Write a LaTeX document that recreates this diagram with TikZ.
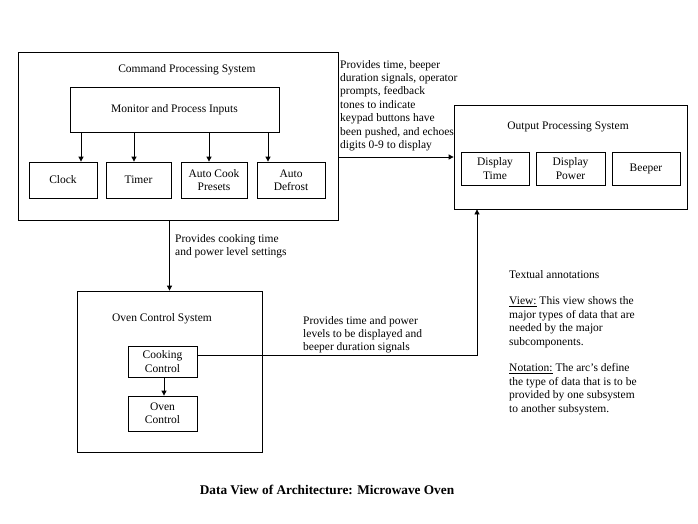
\documentclass[tikz,border=0pt]{standalone}
\usepackage{fontspec}
\setmainfont{Liberation Serif}
\usetikzlibrary{arrows.meta}
\begin{document}
\begin{tikzpicture}[x=1pt,y=-1pt,
  every node/.style={font=\fontsize{11.5}{13.4}\selectfont},
  box/.style={draw,line width=0.8pt,inner sep=0pt,align=center},
  txt/.style={inner sep=0pt,align=left,anchor=north west},
  arr/.style={line width=0.8pt,-{Triangle[length=5pt,width=5pt]}},
  ln/.style={line width=0.8pt}]
\useasboundingbox (0,0) rectangle (698,523);
% Command Processing System
\node[box,minimum width=320pt,minimum height=168pt] (cps) at (178,136) {};
\node (cpst) at (187,70) {Command Processing System};
\node[box,minimum width=209pt,minimum height=45pt] (mpi) at (174.5,109.5) {Monitor and Process Inputs};
\node[box,minimum width=68pt,minimum height=36pt] (clock) at (63,180) {Clock};
\node[box,minimum width=65pt,minimum height=36pt] (timer) at (138.5,180) {Timer};
\node[box,minimum width=66pt,minimum height=36pt] (cook) at (214,180) {Auto Cook\\Presets};
\node[box,minimum width=68pt,minimum height=36pt] (defrost) at (291,180) {Auto\\Defrost};
\draw[arr] (mpi.south -| 81,0) -- (clock.north -| 81,0);
\draw[arr] (mpi.south -| 134,0) -- (timer.north -| 134,0);
\draw[arr] (mpi.south -| 209,0) -- (cook.north -| 209,0);
\draw[arr] (mpi.south -| 268,0) -- (defrost.north -| 268,0);
% Output Processing System
\node[box,minimum width=233pt,minimum height=104pt] (out) at (570.5,157) {};
\node (outt) at (568,127) {Output Processing System};
\node[box,minimum width=68pt,minimum height=33pt] (dtime) at (495,168.5) {Display\\Time};
\node[box,minimum width=69pt,minimum height=33pt] (dpower) at (570.5,168.5) {Display\\Power};
\node[box,minimum width=68pt,minimum height=33pt] (beeper) at (646,168.5) {Beeper};
% connector cps -> out
\draw[arr] (cps.east |- out.west) -- (out.west);
\node[txt] (lbl1) at (340,60) {Provides time, beeper\\duration signals, operator\\prompts, feedback\\tones to indicate\\keypad buttons have\\been pushed, and echoes\\digits 0-9 to display};
% Oven Control System
\node[box,minimum width=185pt,minimum height=161pt] (oven) at (169.5,371.5) {};
\node (ovent) at (162,319) {Oven Control System};
\node[box,minimum width=69pt,minimum height=31pt] (cc) at (162.5,361.5) {Cooking\\Control};
\node[box,minimum width=69pt,minimum height=35pt] (oc) at (162.5,413.5) {Oven\\Control};
\draw[arr] (cc.south -| 164,0) -- (oc.north -| 164,0);
% cps -> oven
\draw[arr] (oven.north |- cps.south) -- (oven.north);
\node[txt] (lbl2) at (175,234) {Provides cooking time\\and power level settings};
% cooking control -> out
\coordinate (bend) at (477,355);
\draw[arr] (cc.east |- bend) -- (bend) -- (out.south -| bend);
\node[txt] (lbl3) at (303,316) {Provides time and power\\levels to be displayed and\\beeper duration signals};
% annotations
\node[txt] (ann) at (509,270) {Textual annotations\\[13.4pt]\underline{View:} This view shows the\\major types of data that are\\needed by the major\\subcomponents.\\[13.4pt]\underline{Notation:} The arc's define\\the type of data that is to be\\provided by one subsystem\\to another subsystem.};
% title
\node[font=\fontsize{13.3}{15}\selectfont\bfseries] (title) at (327,490) {Data View of Architecture: Microwave Oven};
\end{tikzpicture}
\end{document}
